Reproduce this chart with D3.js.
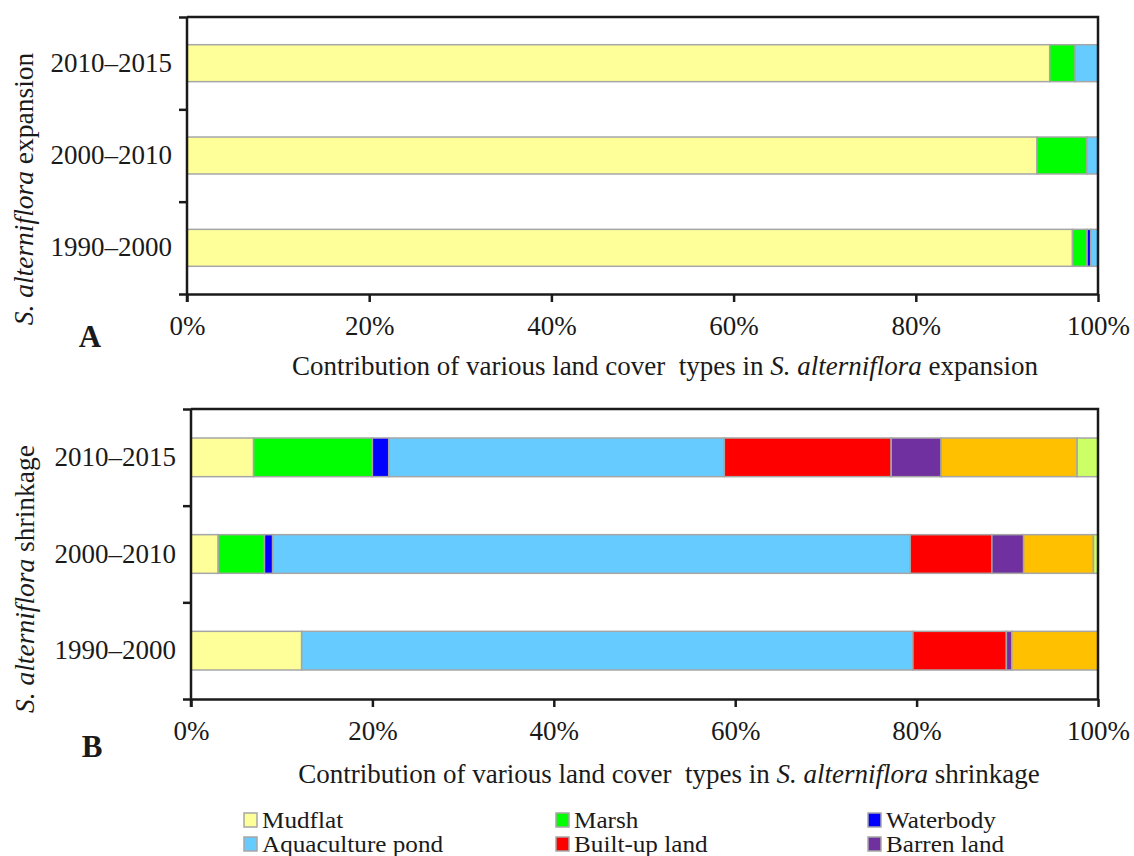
<!DOCTYPE html>
<html>
<head>
<meta charset="utf-8">
<script src="https://d3js.org/d3.v7.min.js"></script>
<style>
  body { margin: 0; background: #fff; }
  text { font-family: "Liberation Serif", "Times New Roman", serif; fill: #1a1a1a; }
</style>
</head>
<body>
<div id="vis"></div>
<script>
var width = 1134;
var height = 856;

// categories (top to bottom)
var periods = ["2010–2015", "2000–2010", "1990–2000"];
var landTypes = ["Mudflat", "Marsh", "Waterbody", "Aquaculture pond", "Built-up land", "Barren land", "Other type 1", "Other type 2"];
var COLORS = ["#ffff99", "#00ff00", "#0000ff", "#66ccff", "#ff0000", "#7030a0", "#ffc000", "#ccff66"];
var xTicks = [0, 0.2, 0.4, 0.6, 0.8, 1];

// percent contribution per period, same order as landTypes
var expansion = {
  "2010–2015": [94.7, 2.8, 0.0, 2.5, 0, 0, 0, 0],
  "2000–2010": [93.3, 5.5, 0.0, 1.2, 0, 0, 0, 0],
  "1990–2000": [97.2, 1.6, 0.4, 0.8, 0, 0, 0, 0]
};
var shrinkage = {
  "2010–2015": [6.9, 13.1, 1.8, 37.0, 18.4, 5.5, 15.0, 2.3],
  "2000–2010": [3.0, 5.1, 0.9, 70.3, 9.0, 3.5, 7.7, 0.5],
  "1990–2000": [12.2, 0, 0, 67.4, 10.3, 0.6, 9.5, 0]
};

var svg = d3.select("#vis").append("svg")
  .attr("width", width)
  .attr("height", height);

function stackRows(values) {
  var rows = [];
  periods.forEach(function (p) {
    var x0 = 0;
    values[p].forEach(function (v, i) {
      if (v > 0) rows.push({ period: p, type: i, x0: x0 / 100, x1: (x0 + v) / 100 });
      x0 += v;
    });
  });
  return rows;
}

function drawPanel(opt) {
  var w = opt.w, h = opt.h;
  var g = svg.append("g").attr("transform", "translate(" + opt.left + "," + opt.top + ")");

  var x = d3.scaleLinear().domain([0, 1]).range([0, w]);
  var y = d3.scaleBand().domain(periods).range([0, h]).paddingInner(0.6).paddingOuter(0.3);
  var yLin = d3.scaleLinear().domain([0, 3]).range([h, 0]);

  // bars
  g.selectAll(".seg")
    .data(stackRows(opt.values))
    .enter()
    .append("rect")
    .attr("class", "seg")
    .attr("x", function (d) { return x(d.x0); })
    .attr("y", function (d) { return y(d.period); })
    .attr("width", function (d) { return x(d.x1) - x(d.x0); })
    .attr("height", y.bandwidth())
    .attr("fill", function (d) { return COLORS[d.type]; })
    .attr("stroke", "#a6a6a6")
    .attr("stroke-width", 1.5);

  // frame top + right
  g.append("path")
    .attr("d", "M0,0H" + w + "V" + h)
    .attr("fill", "none")
    .attr("stroke", "#1a1a1a")
    .attr("stroke-width", 2.5);

  // x axis
  var xa = g.append("g")
    .attr("transform", "translate(0," + h + ")")
    .call(d3.axisBottom(x).tickValues(xTicks).tickFormat(d3.format(".0%")).tickSize(8).tickSizeOuter(0).tickPadding(14));
  xa.select(".domain").attr("stroke", "#1a1a1a").attr("stroke-width", 2.5);
  xa.selectAll(".tick line").attr("stroke", "#1a1a1a").attr("stroke-width", 2.5);
  xa.selectAll(".tick text").attr("font-size", 27).attr("font-family", "Liberation Serif").attr("fill", "#1a1a1a");

  // y axis ticks at band boundaries
  var ya = g.append("g")
    .call(d3.axisLeft(yLin).tickValues([0, 1, 2, 3]).tickFormat("").tickSize(8).tickSizeOuter(0));
  ya.select(".domain").attr("stroke", "#1a1a1a").attr("stroke-width", 2.5).attr("d", "M0," + (h + 8) + "V0");
  ya.selectAll(".tick line").attr("stroke", "#1a1a1a").attr("stroke-width", 2.5);

  // category labels
  var yl = g.append("g")
    .call(d3.axisLeft(y).tickSize(0).tickPadding(15));
  yl.select(".domain").remove();
  yl.selectAll(".tick text").attr("font-size", 27).attr("font-family", "Liberation Serif").attr("fill", "#1a1a1a");

  // x title
  var xt = svg.append("text")
    .attr("x", opt.xTitleX)
    .attr("y", opt.xTitleY)
    .attr("text-anchor", "middle")
    .attr("font-size", 27)
    .style("white-space", "pre");
  xt.append("tspan").text("Contribution of various land cover  types in ");
  xt.append("tspan").attr("font-style", "italic").text("S. alterniflora");
  xt.append("tspan").text(" " + opt.word);

  // y title
  var yt = svg.append("text")
    .attr("transform", "translate(" + opt.yTitleX + "," + opt.yTitleY + ") rotate(-90)")
    .attr("text-anchor", "middle")
    .attr("font-size", 27.5);
  yt.append("tspan").attr("font-style", "italic").text("S. alterniflora");
  yt.append("tspan").text(" " + opt.word);

  // panel letter
  svg.append("text")
    .attr("x", opt.letterX)
    .attr("y", opt.letterY)
    .attr("text-anchor", "middle")
    .attr("font-size", 31)
    .attr("font-weight", "bold")
    .text(opt.letter);
}

drawPanel({
  left: 187, top: 17, w: 911, h: 277,
  values: expansion, word: "expansion",
  xTitleX: 665, xTitleY: 375,
  yTitleX: 33, yTitleY: 189,
  letter: "A", letterX: 90, letterY: 347
});

drawPanel({
  left: 191, top: 409, w: 907, h: 290,
  values: shrinkage, word: "shrinkage",
  xTitleX: 669, xTitleY: 783,
  yTitleX: 34, yTitleY: 579,
  letter: "B", letterX: 92, letterY: 757
});

// legend (only the rows that fit in the picture)
var legendCols = [244, 556, 868];
var legendRowY = [820, 844];
var legend = svg.append("g");
landTypes.slice(0, 6).forEach(function (name, i) {
  var cx = legendCols[i % 3];
  var cy = legendRowY[Math.floor(i / 3)];
  legend.append("rect")
    .attr("x", cx)
    .attr("y", cy - 7)
    .attr("width", 13)
    .attr("height", 14)
    .attr("fill", COLORS[i])
    .attr("stroke", "#a6a6a6")
    .attr("stroke-width", 1.5);
  legend.append("text")
    .attr("transform", "translate(" + (cx + 18) + "," + cy + ") scale(1.12,1)")
    .attr("dy", "0.35em")
    .attr("font-size", 22.5)
    .text(name);
});
</script>
</body>
</html>
